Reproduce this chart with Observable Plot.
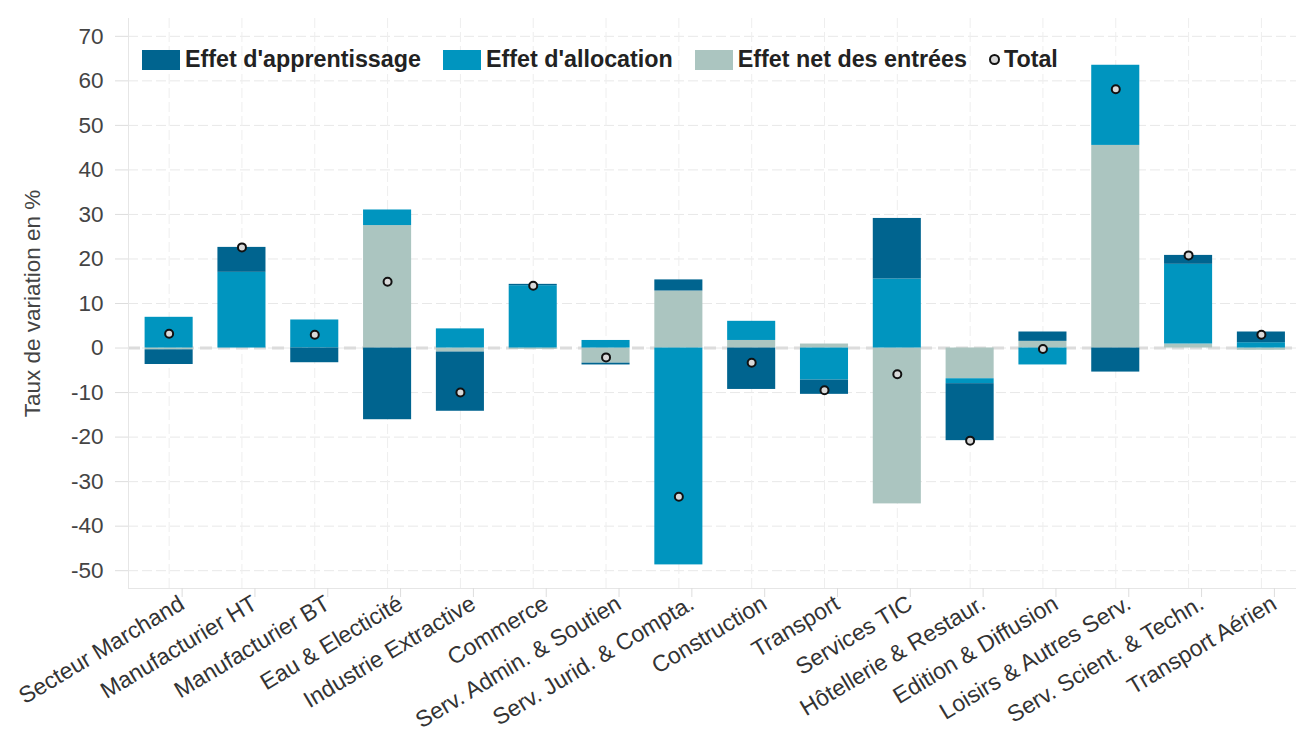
<!DOCTYPE html>
<html>
<head>
<meta charset="utf-8">
<script src="https://cdn.jsdelivr.net/npm/d3@7"></script>
<script src="https://cdn.jsdelivr.net/npm/@observablehq/plot@0.6"></script>
<style>
  html, body { margin: 0; padding: 0; background: #ffffff; }
  #wrap { position: relative; width: 1296px; height: 742px; font-family: "Liberation Sans", Arial, sans-serif; overflow: hidden; }
  #legend { position: absolute; left: 142px; top: 46px; display: flex; align-items: center; font-weight: bold; font-size: 23.3px; color: #222; white-space: nowrap; }
  .item { display: flex; align-items: center; margin-right: 22px; }
  .sw { width: 38px; height: 20px; margin-right: 5px; }
  .dotk { width: 7px; height: 7px; border-radius: 50%; border: 2px solid #111; background: #d9d9d9; margin-right: 4px; }
</style>
</head>
<body>
<div id="wrap"></div>
<script>
const categories = ["Secteur Marchand", "Manufacturier HT", "Manufacturier BT", "Eau & Electicité", "Industrie Extractive", "Commerce", "Serv. Admin. & Soutien", "Serv. Jurid. & Compta.", "Construction", "Transport", "Services TIC", "Hôtellerie & Restaur.", "Edition & Diffusion", "Loisirs & Autres Serv.", "Serv. Scient. & Techn.", "Transport Aérien"];
const seriesNames = ["Effet d'apprentissage", "Effet d'allocation", "Effet net des entrées"];
const seriesColors = ["#00648f", "#0095bf", "#abc5c0"];
const apprentissage = [-3.3, 5.6, -3.3, -16.1, -13.3, 0.3, -0.4, 2.5, -9.3, -3.2, 13.6, -12.8, 2.1, -5.4, 2.0, 2.4];
const allocation    = [6.9, 17.0, 6.3, 3.5, 4.3, 14.0, 1.7, -48.7, 4.3, -7.2, 15.5, -1.1, -3.8, 18.0, 17.9, 1.2];
const netEntrees    = [-0.4, 0.0, 0.0, 27.5, -0.9, -0.3, -3.4, 12.8, 1.7, 0.9, -35.0, -6.9, 1.5, 45.5, 0.9, -0.5];
const total         = [3.2, 22.6, 3.0, 14.9, -10.0, 14.0, -2.1, -33.4, -3.3, -9.5, -5.9, -20.8, -0.2, 58.1, 20.8, 3.0];
const yTicks = [-50, -40, -30, -20, -10, 0, 10, 20, 30, 40, 50, 60, 70];

const rows = [];
categories.forEach((c, i) => {
  rows.push({cat: c, series: seriesNames[2], value: netEntrees[i]});
  rows.push({cat: c, series: seriesNames[1], value: allocation[i]});
  rows.push({cat: c, series: seriesNames[0], value: apprentissage[i]});
});
const totals = categories.map((c, i) => ({cat: c, total: total[i]}));

const chart = Plot.plot({
  width: 1296,
  height: 742,
  marginTop: 18,
  marginBottom: 154,
  marginLeft: 128,
  marginRight: 0,
  style: {fontFamily: "'Liberation Sans', Arial, sans-serif", fontSize: "22px", background: "#ffffff", color: "#333"},
  x: {domain: categories, paddingInner: 0.34, paddingOuter: 0.19, align: 0.6, round: false, label: null},
  y: {domain: [-54, 74], label: null},
  color: {domain: seriesNames, range: seriesColors},
  marks: [
    Plot.gridY({ticks: yTicks, stroke: "#e8e8e8", strokeOpacity: 1, strokeDasharray: "10,4"}),
    Plot.gridX({stroke: "#eeeeee", strokeOpacity: 1, strokeDasharray: "10,4"}),
    Plot.ruleY([0], {stroke: "#dcdcdc", strokeWidth: 3, strokeDasharray: "12,6"}),
    Plot.frame({anchor: "left", stroke: "#e6e6e6"}),
    Plot.frame({anchor: "bottom", stroke: "#e6e6e6"}),
    Plot.barY(rows, Plot.stackY({x: "cat", y: "value", fill: "series", order: [seriesNames[2], seriesNames[1], seriesNames[0]]})),
    Plot.dot(totals, {x: "cat", y: "total", r: 4, fill: "#d9d9d9", stroke: "#111", strokeWidth: 2}),
    Plot.axisY({ticks: yTicks, tickFormat: d => String(d), tickSize: 13, tickPadding: 12, stroke: "#dddddd", fill: "#444", fontSize: 22.5,
      label: "Taux de variation en %", labelAnchor: "center", labelArrow: "none", labelOffset: 104}),
    Plot.axisX({tickSize: 9, stroke: "#dddddd", fill: "#333", fontSize: 23, tickRotate: -31, tickPadding: 4, dx: 13, dy: 0, label: null})
  ]
});

const wrap = document.getElementById("wrap");
wrap.appendChild(chart);
const legend = document.createElement("div");
legend.id = "legend";
seriesNames.forEach((s, i) => {
  const it = document.createElement("div");
  it.className = "item";
  const sw = document.createElement("div");
  sw.className = "sw";
  sw.style.background = seriesColors[i];
  const tx = document.createElement("span");
  tx.textContent = s;
  it.appendChild(sw); it.appendChild(tx);
  legend.appendChild(it);
});
const it = document.createElement("div");
it.className = "item";
const dk = document.createElement("div");
dk.className = "dotk";
const tx = document.createElement("span");
tx.textContent = "Total";
it.appendChild(dk); it.appendChild(tx);
legend.appendChild(it);
wrap.appendChild(legend);
</script>
</body>
</html>
